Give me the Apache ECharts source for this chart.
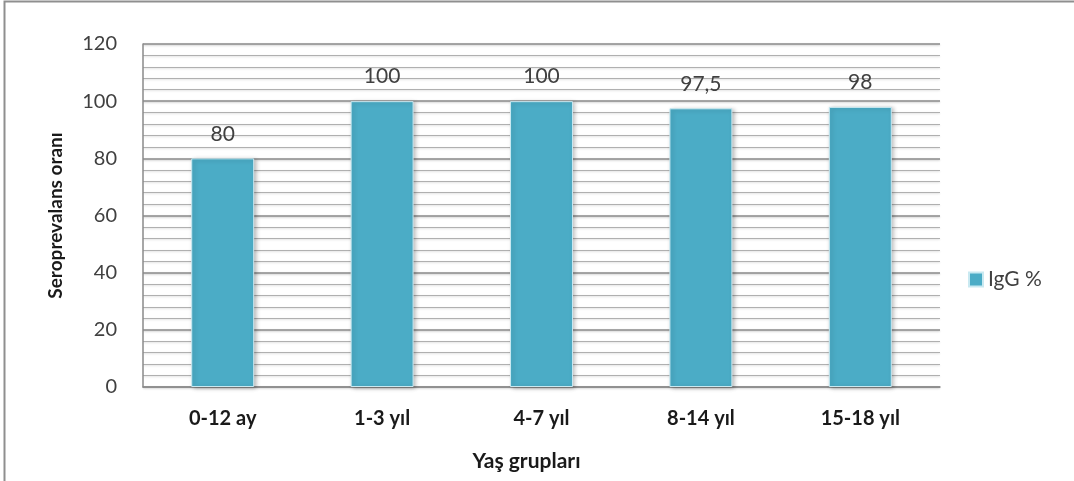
<!DOCTYPE html>
<html>
<head>
<meta charset="utf-8">
<script src="https://cdn.jsdelivr.net/npm/echarts@6/dist/echarts.min.js"></script>
<style>
  html, body { margin: 0; padding: 0; background: #fff; }
  #chart { width: 1074px; height: 481px; }
</style>
</head>
<body>
<div id="chart"></div>
<script>
// Age groups and IgG seroprevalence (%)
const categories = ['0-12 ay', '1-3 yıl', '4-7 yıl', '8-14 yıl', '15-18 yıl'];
const iggValues = [80, 100, 100, 97.5, 98];
const seriesName = 'IgG %';
const xAxisTitle = 'Yaş grupları';
const yAxisTitle = 'Seroprevalans oranı';

const FONT = 'Lato, "Open Sans", sans-serif';
const TEXT = '#404040';

const chart = echarts.init(document.getElementById('chart'), null, { renderer: 'canvas' });

chart.setOption({
  animation: false,
  backgroundColor: '#fff',
  textStyle: { fontFamily: FONT },
  graphic: [{
    type: 'rect',
    shape: { x: 4.5, y: 1.5, width: 1100, height: 520 },
    style: { fill: 'none', stroke: '#8f8f8f', lineWidth: 2 },
    silent: true
  }],
  grid: { left: 143, right: 134, top: 44, bottom: 94, containLabel: false, outerBoundsMode: 'none' },
  legend: {
    data: [seriesName],
    orient: 'vertical',
    left: 963,
    top: 264,
    icon: 'rect',
    itemWidth: 14,
    itemHeight: 14,
    itemGap: 6,
    textStyle: { fontFamily: FONT, fontSize: 21, color: TEXT }
  },
  xAxis: {
    type: 'category',
    data: categories,
    name: xAxisTitle,
    nameLocation: 'middle',
    nameGap: 64,
    nameTextStyle: { fontFamily: FONT, fontSize: 21, fontWeight: 'bold', color: '#1a1a1a', padding: [0, 30, 0, 0] },
    axisLine: { show: true, lineStyle: { color: '#8a8a8a', width: 1.5 } },
    axisTick: { show: false },
    axisLabel: { margin: 22, fontFamily: FONT, fontSize: 20, fontWeight: 'bold', color: '#1a1a1a' }
  },
  yAxis: {
    type: 'value',
    min: 0,
    max: 120,
    interval: 20,
    name: yAxisTitle,
    nameLocation: 'middle',
    nameRotate: 90,
    nameGap: 78,
    nameTextStyle: { fontFamily: FONT, fontSize: 19, fontWeight: 'bold', color: '#1a1a1a' },
    axisLine: { show: true, lineStyle: { color: '#8a8a8a', width: 1.5 } },
    axisTick: { show: false },
    axisLabel: { margin: 26, fontFamily: FONT, fontSize: 20, color: TEXT },
    splitLine: {
      show: true,
      lineStyle: { color: '#8a8a8a', width: 1.5, shadowColor: 'rgba(0,0,0,0.2)', shadowBlur: 2, shadowOffsetY: 1 }
    },
    minorTick: { show: false, splitNumber: 5 },
    minorSplitLine: {
      show: true,
      lineStyle: { color: '#b0b0b0', width: 1.2, shadowColor: 'rgba(0,0,0,0.15)', shadowBlur: 2, shadowOffsetY: 1 }
    }
  },
  series: [{
    name: seriesName,
    type: 'bar',
    data: iggValues,
    barWidth: '39.5%',
    itemStyle: {
      color: '#4BACC6',
      borderColor: '#c9e9f1',
      borderWidth: 1,
      shadowColor: 'rgba(0,0,0,0.25)',
      shadowBlur: 4,
      shadowOffsetX: 2,
      shadowOffsetY: 1
    },
    label: {
      show: true,
      position: 'top',
      distance: 14,
      fontFamily: FONT,
      fontSize: 21,
      color: TEXT,
      formatter: p => String(p.value).replace('.', ',')
    }
  }]
});
</script>
</body>
</html>
